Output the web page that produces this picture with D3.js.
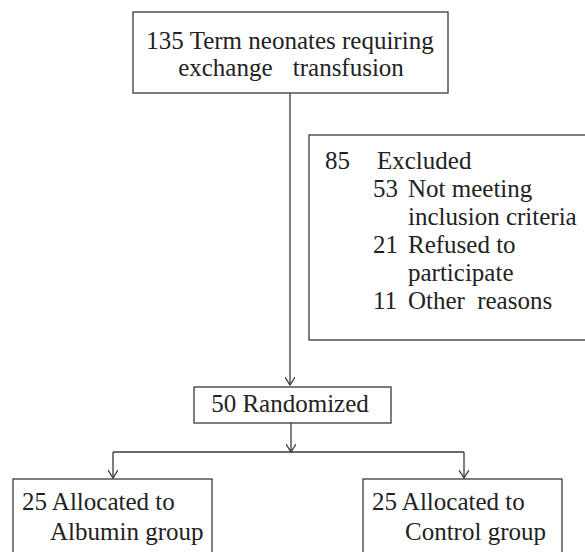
<!DOCTYPE html>
<html>
<head>
<meta charset="utf-8">
<script src="https://cdn.jsdelivr.net/npm/d3@7"></script>
</head>
<body style="margin:0;background:#fff">
<script>
// flow counts and labels (words of a label, extra gap after a word given in px)
const screened = 135;
const screenedLabel = [[["Term neonates requiring", 0]], [["exchange", 14], ["transfusion", 0]]];
const excludedTotal = 85;
const excludedCounts = [53, 21, 11];
const excludedReasons = [[[["Not meeting", 0]], [["inclusion criteria", 0]]], [[["Refused to", 0]], [["participate", 0]]], [[["Other", 6], ["reasons", 0]]]];
const randomized = 50;
const groupCounts = [25, 25];
const groupLabels = [["Allocated to", "Albumin group"], ["Allocated to", "Control group"]];

const width = 585, height = 552;
const stroke = "#3a3a3a";
const font = "'Liberation Serif', Tinos, 'Times New Roman', serif";

const svg = d3.select("body").append("svg")
    .attr("width", width)
    .attr("height", height)
    .attr("font-family", font)
    .style("font-family", font);

svg.append("defs").append("marker")
    .attr("id", "arrow")
    .attr("viewBox", "0 0 10 10")
    .attr("refX", 9).attr("refY", 5)
    .attr("markerWidth", 10).attr("markerHeight", 10)
    .attr("markerUnits", "userSpaceOnUse")
    .attr("orient", "auto")
    .append("path")
    .attr("d", "M1,0 L9,5 L1,10")
    .attr("fill", "none")
    .attr("stroke", stroke)
    .attr("stroke-width", 1.3);

function box(x, y, w, h) {
    svg.append("rect")
        .attr("x", x).attr("y", y)
        .attr("width", w).attr("height", h)
        .attr("fill", "none")
        .attr("stroke", stroke)
        .attr("stroke-width", 1.3);
}

function line(pts, arrow) {
    const p = svg.append("path")
        .attr("d", d3.line()(pts))
        .attr("fill", "none")
        .attr("stroke", stroke)
        .attr("stroke-width", 1.3);
    if (arrow) p.attr("marker-end", "url(#arrow)");
}

function text(x, y, s, anchor) {
    const t = svg.append("text")
        .attr("x", x).attr("y", y)
        .attr("font-family", font)
        .style("font-family", font)
        .attr("font-size", 25)
        .attr("fill", "#222")
        .attr("text-anchor", anchor || "start");
    if (typeof s === "string") {
        t.text(s);
    } else {
        // list of [word, gap] pairs
        let gap = 0;
        s.forEach(([w, g], i) => {
            t.append("tspan").attr("dx", gap).text((i > 0 ? " " : "") + w);
            gap = g;
        });
    }
    return t;
}

// top box
box(133, 12, 315, 81);
text(290, 49, screened + " " + screenedLabel[0][0][0], "middle");
text(291, 76, screenedLabel[1], "middle");

// main stem to randomized
line([[290, 93], [290, 385]], true);

// excluded box (runs off the right edge)
box(309, 135, 300, 205);
text(325, 169, String(excludedTotal));
text(377, 169, "Excluded");
let ly = 197;
excludedCounts.forEach((c, i) => {
    text(373, ly, String(c));
    excludedReasons[i].forEach(s => {
        text(408, ly, s);
        ly += 28;
    });
});

// randomized
box(194, 387, 197, 36);
text(290, 412, randomized + " Randomized", "middle");

// split to groups
line([[291, 423], [291, 452]], true);
const groupX = [113, 464];
line([[groupX[0], 452], [groupX[1], 452]], false);
groupX.forEach(x => line([[x, 452], [x, 478]], true));

const groupBox = [[13, 199], [363, 199]];
groupCounts.forEach((c, i) => {
    const [bx, bw] = groupBox[i];
    box(bx, 479, bw, 100);
    text(bx + 9, 510, c + " " + groupLabels[i][0]);
    text(bx + (i === 0 ? 37 : 42), 540, groupLabels[i][1]);
});
</script>
</body>
</html>
